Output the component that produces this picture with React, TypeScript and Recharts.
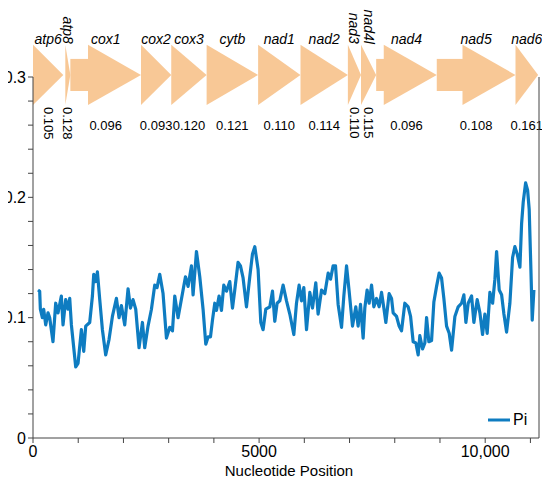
import React from 'react';
import { LineChart, Line, XAxis, YAxis, ReferenceArea, ReferenceLine, Legend, Label } from 'recharts';

// Sliding-window nucleotide diversity (Pi)
const positions = [
  111, 148, 163, 207, 236, 281, 332, 369, 442, 502, 553, 627, 664, 723, 774, 812, 849, 945, 996, 1070,
  1122, 1166, 1254, 1314, 1343, 1387, 1424, 1476, 1535, 1608, 1682, 1756, 1845, 1903, 1955, 2029, 2102, 2155, 2212, 2272,
  2345, 2420, 2471, 2544, 2619, 2692, 2743, 2803, 2876, 2951, 3024, 3084, 3135, 3208, 3319, 3372, 3429, 3504, 3540, 3615,
  3688, 3761, 3821, 3872, 3925, 3969, 4020, 4057, 4115, 4168, 4219, 4279, 4352, 4412, 4462, 4535, 4588, 4646, 4721, 4794,
  4854, 4905, 4978, 5038, 5088, 5148, 5237, 5296, 5347, 5398, 5458, 5531, 5606, 5679, 5768, 5827, 5885, 5938, 5989, 6049,
  6122, 6181, 6254, 6305, 6381, 6454, 6527, 6580, 6637, 6690, 6748, 6823, 6874, 6934, 6991, 7066, 7139, 7190, 7243, 7301,
  7338, 7389, 7434, 7487, 7538, 7597, 7655, 7708, 7759, 7803, 7876, 7929, 7965, 8040, 8097, 8150, 8223, 8296, 8350, 8407,
  8467, 8518, 8555, 8615, 8666, 8704, 8754, 8814, 8865, 8925, 8982, 9035, 9086, 9146, 9204, 9257, 9330, 9403, 9478, 9529,
  9573, 9624, 9699, 9750, 9823, 9883, 9942, 9993, 10044, 10104, 10164, 10215, 10252, 10310, 10363, 10414, 10473, 10546, 10606, 10657,
  10708, 10768, 10805, 10841, 10894, 10938, 10973, 11011, 11040, 11077,
];
const piValues = [
  0.123, 0.122, 0.107, 0.100, 0.107, 0.094, 0.104, 0.100, 0.080, 0.112, 0.104, 0.118, 0.094, 0.115, 0.107, 0.116, 0.094, 0.059, 0.062, 0.090,
  0.072, 0.093, 0.096, 0.118, 0.136, 0.130, 0.138, 0.115, 0.090, 0.069, 0.082, 0.101, 0.116, 0.100, 0.110, 0.094, 0.124, 0.108, 0.115, 0.107,
  0.075, 0.096, 0.075, 0.093, 0.107, 0.127, 0.125, 0.136, 0.120, 0.083, 0.092, 0.089, 0.118, 0.100, 0.123, 0.134, 0.126, 0.143, 0.119, 0.155,
  0.134, 0.107, 0.078, 0.084, 0.084, 0.098, 0.112, 0.106, 0.118, 0.106, 0.127, 0.122, 0.130, 0.108, 0.123, 0.146, 0.143, 0.133, 0.109, 0.134,
  0.153, 0.159, 0.140, 0.096, 0.090, 0.107, 0.109, 0.122, 0.097, 0.112, 0.114, 0.127, 0.114, 0.103, 0.086, 0.112, 0.127, 0.114, 0.125, 0.090,
  0.121, 0.108, 0.129, 0.103, 0.123, 0.120, 0.137, 0.132, 0.143, 0.143, 0.111, 0.092, 0.118, 0.143, 0.122, 0.093, 0.109, 0.093, 0.111, 0.083,
  0.108, 0.123, 0.112, 0.127, 0.109, 0.116, 0.109, 0.121, 0.108, 0.096, 0.120, 0.116, 0.104, 0.101, 0.093, 0.089, 0.112, 0.109, 0.101, 0.080,
  0.079, 0.069, 0.085, 0.074, 0.079, 0.100, 0.080, 0.081, 0.113, 0.126, 0.137, 0.133, 0.116, 0.093, 0.087, 0.073, 0.101, 0.109, 0.112, 0.119,
  0.096, 0.112, 0.118, 0.096, 0.115, 0.104, 0.086, 0.103, 0.087, 0.121, 0.112, 0.132, 0.155, 0.123, 0.119, 0.103, 0.088, 0.112, 0.150, 0.159,
  0.153, 0.142, 0.178, 0.196, 0.212, 0.206, 0.190, 0.140, 0.098, 0.123,
];

// Genes (start, end in nucleotide position) and their Pi values
const geneNames = ['atp6', 'atp8', 'cox1', 'cox2', 'cox3', 'cytb', 'nad1', 'nad2', 'nad3', 'nad4l', 'nad4', 'nad5', 'nad6'];
const geneStarts = [0, 714, 826, 2388, 3058, 3839, 4978, 5915, 6964, 7254, 7589, 8929, 10670];
const geneEnds = [670, 826, 2388, 3058, 3839, 4978, 5915, 6964, 7254, 7589, 8929, 10670, 11170];
const genePi = ['0.105', '0.128', '0.096', '0.093', '0.120', '0.121', '0.110', '0.114', '0.110', '0.115', '0.096', '0.108', '0.161'];
const rotatedNames = ['atp8', 'nad3', 'nad4l'];
const rotatedValues = ['atp6', 'atp8', 'nad3', 'nad4l'];

const xTicks = [0, 1000, 2000, 3000, 4000, 5000, 6000, 7000, 8000, 9000, 10000, 11000];
const xTickLabels: Record<number, string> = { 0: '0', 5000: '5000', 10000: '10,000' };
const yTicks = [0, 0.02, 0.04, 0.06, 0.08, 0.1, 0.12, 0.14, 0.16, 0.18, 0.2, 0.22, 0.24, 0.26, 0.28, 0.3];
const yTickLabels: Record<string, string> = { '0': '0', '0.1': '0.1', '0.2': '0.2', '0.3': '0.3' };

const X_MAX = 11190;
const ARROW_TOP = 0.3267;
const ARROW_BOTTOM = 0.2767;

const data = positions.map((p, i) => ({ pos: p, pi: piValues[i] }));

const LINE_COLOR = '#0e7cc1';
const GENE_COLOR = '#f8c896';
const AXIS_COLOR = '#444';

function GeneArrow(props: any) {
  const { x, y, width, height, name, value } = props;
  const head = Math.min(width, 53);
  const bodyH = height * (32 / 60);
  const cy = y + height / 2;
  const bodyEnd = x + width - head;
  const cx = x + width / 2;
  const nameRot = rotatedNames.includes(name);
  const valRot = rotatedValues.includes(name);
  return (
    <g>
      {width - head > 0 && (
        <rect x={x} y={cy - bodyH / 2} width={width - head + 0.5} height={bodyH} fill={GENE_COLOR} />
      )}
      <polygon
        points={`${bodyEnd},${y} ${x + width},${cy} ${bodyEnd},${y + height}`}
        fill={GENE_COLOR}
      />
      {nameRot ? (
        <text
          x={cx}
          y={y - 1}
          transform={`rotate(90 ${cx} ${y - 1})`}
          textAnchor="end"
          dominantBaseline="central"
          fontSize={14}
          fontStyle="italic"
          fill="#000"
        >
          {name}
        </text>
      ) : (
        <text x={cx} y={y - 1} textAnchor="middle" fontSize={14} fontStyle="italic" fill="#000">
          {name}
        </text>
      )}
      {valRot ? (
        <text
          x={cx}
          y={y + height + 2}
          transform={`rotate(90 ${cx} ${y + height + 2})`}
          textAnchor="start"
          dominantBaseline="central"
          fontSize={13}
          fill="#000"
        >
          {value}
        </text>
      ) : (
        <text x={cx} y={y + height + 25} textAnchor="middle" fontSize={13} fill="#000">
          {value}
        </text>
      )}
    </g>
  );
}

function LegendContent() {
  return (
    <div style={{ display: 'flex', alignItems: 'center', fontSize: 16, color: '#000', lineHeight: '18px' }}>
      <svg width={22} height={4} style={{ display: 'block' }}>
        <line x1={0} y1={2} x2={22} y2={2} stroke={LINE_COLOR} strokeWidth={3} />
      </svg>
      <span style={{ marginLeft: 3 }}>Pi</span>
    </div>
  );
}

export default function App() {
  return (
    <div style={{ fontFamily: '"Liberation Sans", Arial, sans-serif', width: 550, height: 480, margin: '-8px 0 0 -8px' }}>
      <LineChart width={550} height={480} data={data} margin={{ top: 77, right: 11, bottom: 0, left: 0 }}>
        <XAxis
          dataKey="pos"
          type="number"
          domain={[0, X_MAX]}
          ticks={xTicks}
          interval={0}
          tickFormatter={(v: number) => xTickLabels[v] ?? ''}
          tick={{ fill: '#000', fontSize: 16 }}
          tickSize={5}
          tickMargin={3}
          stroke={AXIS_COLOR}
          height={42}
          allowDataOverflow
        >
          <Label value="Nucleotide Position" position="insideBottom" offset={4} dx={3} fontSize={15} fill="#000" />
        </XAxis>
        <YAxis
          type="number"
          domain={[0, 0.3]}
          ticks={yTicks}
          tickFormatter={(v: number) => yTickLabels[String(Math.round(v * 100) / 100)] ?? ''}
          tick={{ fill: '#000', fontSize: 16 }}
          tickSize={5}
          stroke={AXIS_COLOR}
          width={33}
          allowDataOverflow
          interval={0}
        />
        <ReferenceLine x={X_MAX} stroke={AXIS_COLOR} ifOverflow="visible" />
        {geneNames.map((g, i) => (
          <ReferenceArea
            key={g}
            x1={geneStarts[i]}
            x2={geneEnds[i]}
            y1={ARROW_BOTTOM}
            y2={ARROW_TOP}
            ifOverflow="visible"
            shape={(p: any) => <GeneArrow {...p} name={g} value={genePi[i]} />}
          />
        ))}
        <Line
          type="linear"
          dataKey="pi"
          stroke={LINE_COLOR}
          strokeWidth={3.2}
          dot={false}
          isAnimationActive={false}
          strokeLinejoin="round"
        />
        <Legend
          layout="horizontal"
          verticalAlign="middle"
          align="center"
          content={() => <LegendContent />}
          wrapperStyle={{ left: 488, top: 411, width: 'auto' }}
        />
      </LineChart>
    </div>
  );
}
